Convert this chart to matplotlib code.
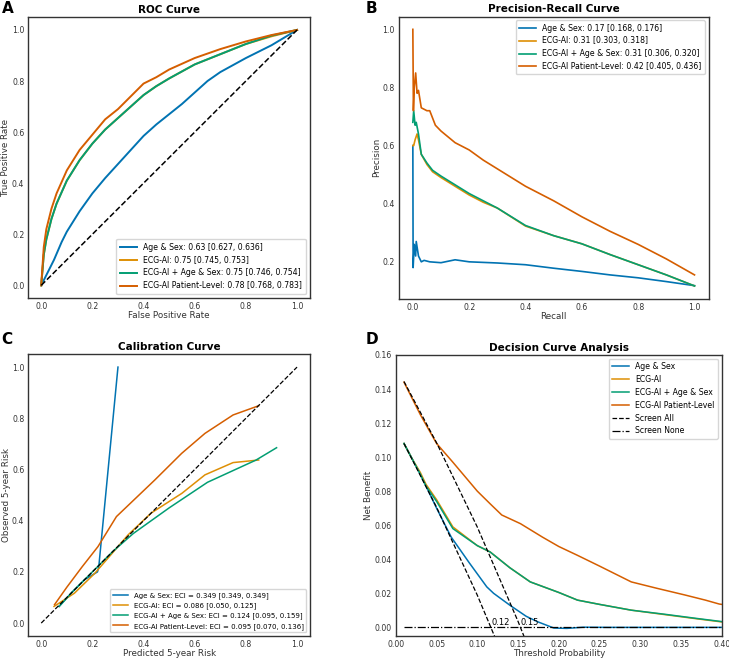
import matplotlib
matplotlib.use("Agg")
import matplotlib.pyplot as plt

# colours (seaborn colorblind)
COLORS = ["#0173B2", "#DE8F05", "#029E73", "#D55E00"]

# ---- ROC data ----
roc_labels = [
    "Age & Sex: 0.63 [0.627, 0.636]",
    "ECG-AI: 0.75 [0.745, 0.753]",
    "ECG-AI + Age & Sex: 0.75 [0.746, 0.754]",
    "ECG-AI Patient-Level: 0.78 [0.768, 0.783]",
]
roc_age_fpr = [0, 0.02, 0.05, 0.08, 0.1, 0.15, 0.2, 0.25, 0.3, 0.35, 0.4, 0.45, 0.5, 0.55, 0.6, 0.65, 0.7, 0.8, 0.9, 0.95, 1.0]
roc_age_tpr = [0, 0.04, 0.1, 0.17, 0.21, 0.29, 0.36, 0.42, 0.475, 0.53, 0.585, 0.63, 0.67, 0.71, 0.755, 0.8, 0.835, 0.89, 0.94, 0.97, 1.0]
roc_ecg_fpr = [0, 0.01, 0.02, 0.04, 0.06, 0.1, 0.15, 0.2, 0.25, 0.3, 0.35, 0.4, 0.45, 0.5, 0.6, 0.7, 0.8, 0.9, 1.0]
roc_ecg_tpr = [0, 0.12, 0.18, 0.26, 0.32, 0.41, 0.49, 0.555, 0.61, 0.655, 0.70, 0.745, 0.78, 0.81, 0.865, 0.905, 0.945, 0.975, 1.0]
roc_comb_tpr = [0, 0.12, 0.18, 0.26, 0.32, 0.41, 0.49, 0.555, 0.61, 0.655, 0.70, 0.745, 0.78, 0.81, 0.865, 0.905, 0.945, 0.978, 1.0]
roc_pat_fpr = [0, 0.01, 0.02, 0.04, 0.06, 0.1, 0.15, 0.2, 0.25, 0.3, 0.35, 0.4, 0.45, 0.5, 0.6, 0.7, 0.8, 0.9, 1.0]
roc_pat_tpr = [0, 0.15, 0.22, 0.3, 0.36, 0.45, 0.53, 0.59, 0.65, 0.69, 0.74, 0.79, 0.815, 0.845, 0.89, 0.925, 0.955, 0.98, 1.0]

# ---- Precision-recall data ----
pr_labels = [
    "Age & Sex: 0.17 [0.168, 0.176]",
    "ECG-AI: 0.31 [0.303, 0.318]",
    "ECG-AI + Age & Sex: 0.31 [0.306, 0.320]",
    "ECG-AI Patient-Level: 0.42 [0.405, 0.436]",
]
pr_age_rec = [0, 0.001, 0.005, 0.01, 0.012, 0.02, 0.03, 0.04, 0.06, 0.1, 0.15, 0.2, 0.3, 0.4, 0.5, 0.6, 0.7, 0.8, 0.9, 1.0]
pr_age_prec = [0.6, 0.18, 0.26, 0.22, 0.27, 0.22, 0.2, 0.205, 0.2, 0.197, 0.207, 0.2, 0.196, 0.19, 0.178, 0.167, 0.155, 0.145, 0.132, 0.118]
pr_ecg_rec = [0, 0.003, 0.008, 0.015, 0.02, 0.03, 0.05, 0.07, 0.1, 0.15, 0.2, 0.25, 0.3, 0.4, 0.5, 0.6, 0.7, 0.8, 0.9, 1.0]
pr_ecg_prec = [0.6, 0.6, 0.62, 0.64, 0.62, 0.57, 0.535, 0.51, 0.49, 0.46, 0.43, 0.405, 0.385, 0.323, 0.29, 0.262, 0.225, 0.19, 0.155, 0.117]
pr_comb_rec = [0, 0.003, 0.008, 0.012, 0.02, 0.03, 0.05, 0.07, 0.1, 0.15, 0.2, 0.25, 0.3, 0.4, 0.5, 0.6, 0.7, 0.8, 0.9, 1.0]
pr_comb_prec = [0.68, 0.72, 0.67, 0.68, 0.64, 0.57, 0.54, 0.515, 0.495, 0.465, 0.435, 0.41, 0.385, 0.325, 0.29, 0.262, 0.225, 0.19, 0.155, 0.117]
pr_pat_rec = [0, 0.002, 0.005, 0.01, 0.015, 0.02, 0.03, 0.05, 0.06, 0.08, 0.1, 0.15, 0.2, 0.25, 0.3, 0.35, 0.4, 0.5, 0.6, 0.7, 0.8, 0.9, 1.0]
pr_pat_prec = [1.0, 0.72, 0.8, 0.85, 0.78, 0.79, 0.73, 0.72, 0.72, 0.67, 0.65, 0.61, 0.585, 0.55, 0.52, 0.49, 0.46, 0.41, 0.355, 0.305, 0.26, 0.21, 0.155]

# ---- Calibration data ----
cal_labels = [
    "Age & Sex: ECI = 0.349 [0.349, 0.349]",
    "ECG-AI: ECI = 0.086 [0.050, 0.125]",
    "ECG-AI + Age & Sex: ECI = 0.124 [0.095, 0.159]",
    "ECG-AI Patient-Level: ECI = 0.095 [0.070, 0.136]",
]
cal_age_pred = [0.07, 0.12, 0.17, 0.22, 0.225, 0.30]
cal_age_obs = [0.065, 0.12, 0.17, 0.2, 0.22, 1.0]
cal_ecg_pred = [0.05, 0.13, 0.21, 0.34, 0.43, 0.55, 0.64, 0.75, 0.85]
cal_ecg_obs = [0.065, 0.117, 0.195, 0.345, 0.43, 0.507, 0.579, 0.627, 0.637]
cal_comb_pred = [0.07, 0.12, 0.2, 0.28, 0.36, 0.5, 0.65, 0.84, 0.92]
cal_comb_obs = [0.065, 0.12, 0.2, 0.28, 0.35, 0.45, 0.55, 0.637, 0.685]
cal_pat_pred = [0.052, 0.1, 0.16, 0.222, 0.294, 0.444, 0.549, 0.64, 0.75, 0.85]
cal_pat_obs = [0.072, 0.14, 0.22, 0.299, 0.416, 0.559, 0.663, 0.741, 0.813, 0.849]

# ---- Decision curve data ----
dca_labels = ["Age & Sex", "ECG-AI", "ECG-AI + Age & Sex", "ECG-AI Patient-Level"]
dca_age_t = [0.01, 0.03, 0.05, 0.068, 0.09, 0.1116, 0.12, 0.14, 0.16, 0.174, 0.194, 0.21, 0.23, 0.26, 0.3, 0.4]
dca_age_nb = [0.108, 0.09, 0.07, 0.053, 0.038, 0.0238, 0.02, 0.013, 0.0065, 0.0033, -0.0004, -0.0006, 0.0001, 0.0, 0.0, 0.0]
dca_t = [0.01, 0.02, 0.03, 0.037, 0.05, 0.07, 0.1, 0.1157, 0.14, 0.165, 0.2, 0.223, 0.25, 0.289, 0.33, 0.37, 0.4]
dca_ecg_nb = [0.108, 0.099, 0.091, 0.084, 0.075, 0.059, 0.048, 0.0443, 0.035, 0.0267, 0.0205, 0.016, 0.0135, 0.0101, 0.0075, 0.005, 0.0032]
dca_comb_nb = [0.108, 0.099, 0.09, 0.083, 0.074, 0.058, 0.048, 0.0443, 0.035, 0.0267, 0.0205, 0.016, 0.0135, 0.0101, 0.0077, 0.0052, 0.0034]
dca_pat_t = [0.01, 0.03, 0.05, 0.07, 0.1, 0.1157, 0.13, 0.153, 0.18, 0.2, 0.223, 0.25, 0.289, 0.32, 0.355, 0.38, 0.397, 0.4]
dca_pat_nb = [0.144, 0.125, 0.108, 0.097, 0.08, 0.0726, 0.066, 0.0609, 0.053, 0.0475, 0.0423, 0.036, 0.0267, 0.023, 0.019, 0.016, 0.0137, 0.0135]
all_lo_t = [0.01, 0.05, 0.1, 0.12, 0.125]
all_lo_nb = [0.108, 0.0705, 0.0189, -0.0039, -0.0095]
all_hi_t = [0.01, 0.05, 0.1, 0.15, 0.16]
all_hi_nb = [0.1444, 0.1084, 0.0589, 0.0035, -0.0085]
none_t = [0.01, 0.4]
none_nb = [0.0, 0.0]
cutoffs = [0.12, 0.15]
cutoff_x = [0.117, 0.153]


def style(ax, title, xlabel, ylabel):
    ax.set_title(title, fontsize=7.5, fontweight="bold", pad=3)
    ax.set_xlabel(xlabel, fontsize=6.3, color="#333333", labelpad=0)
    ax.set_ylabel(ylabel, fontsize=6.3, color="#333333", labelpad=1)
    ax.tick_params(length=0, labelsize=5.6, colors="#333333", pad=3)
    for s in ax.spines.values():
        s.set_color("#333333")
        s.set_linewidth(1.0)


def main():
    fig = plt.figure(figsize=(7.29, 6.61), dpi=100)

    # A: ROC
    ax = fig.add_axes([0.039, 0.549, 0.386, 0.425])
    ax.plot(roc_age_fpr, roc_age_tpr, color=COLORS[0], lw=1.4, label=roc_labels[0])
    ax.plot(roc_ecg_fpr, roc_ecg_tpr, color=COLORS[1], lw=1.4, label=roc_labels[1])
    ax.plot(roc_ecg_fpr, roc_comb_tpr, color=COLORS[2], lw=1.4, label=roc_labels[2])
    ax.plot(roc_pat_fpr, roc_pat_tpr, color=COLORS[3], lw=1.4, label=roc_labels[3])
    ax.plot([0, 1], [0, 1], "k--", lw=1.1)
    ax.legend(loc="lower right", fontsize=5.6, frameon=True, borderpad=0.5, handlelength=2.2)
    style(ax, "ROC Curve", "False Positive Rate", "True Positive Rate")

    # B: precision-recall
    ax = fig.add_axes([0.547, 0.548, 0.425, 0.427])
    ax.plot(pr_age_rec, pr_age_prec, color=COLORS[0], lw=1.2, label=pr_labels[0])
    ax.plot(pr_ecg_rec, pr_ecg_prec, color=COLORS[1], lw=1.2, label=pr_labels[1])
    ax.plot(pr_comb_rec, pr_comb_prec, color=COLORS[2], lw=1.2, label=pr_labels[2])
    ax.plot(pr_pat_rec, pr_pat_prec, color=COLORS[3], lw=1.2, label=pr_labels[3])
    ax.legend(loc="upper right", fontsize=5.6, frameon=True, borderpad=0.4, handlelength=2.2)
    ax.set_yticks([0.2, 0.4, 0.6, 0.8, 1.0])
    style(ax, "Precision-Recall Curve", "Recall", "Precision")

    # C: calibration
    ax = fig.add_axes([0.039, 0.038, 0.386, 0.426])
    ax.plot(cal_age_pred, cal_age_obs, color=COLORS[0], lw=1.1, label=cal_labels[0])
    ax.plot(cal_ecg_pred, cal_ecg_obs, color=COLORS[1], lw=1.1, label=cal_labels[1])
    ax.plot(cal_comb_pred, cal_comb_obs, color=COLORS[2], lw=1.1, label=cal_labels[2])
    ax.plot(cal_pat_pred, cal_pat_obs, color=COLORS[3], lw=1.1, label=cal_labels[3])
    ax.plot([0, 1], [0, 1], "k--", lw=0.9)
    ax.legend(loc="lower right", fontsize=5.0, frameon=True, borderpad=0.4, handlelength=2.2)
    style(ax, "Calibration Curve", "Predicted 5-year Risk", "Observed 5-year Risk")

    # D: decision curve
    ax = fig.add_axes([0.543, 0.038, 0.447, 0.425])
    ax.plot(dca_age_t, dca_age_nb, color=COLORS[0], lw=1.1, label=dca_labels[0])
    ax.plot(dca_t, dca_ecg_nb, color=COLORS[1], lw=1.1, label=dca_labels[1])
    ax.plot(dca_t, dca_comb_nb, color=COLORS[2], lw=1.1, label=dca_labels[2])
    ax.plot(dca_pat_t, dca_pat_nb, color=COLORS[3], lw=1.1, label=dca_labels[3])
    ax.plot(all_lo_t, all_lo_nb, "k--", lw=0.9, label="Screen All")
    ax.plot(all_hi_t, all_hi_nb, "k--", lw=0.9)
    ax.plot(none_t, none_nb, "k-.", lw=0.9, label="Screen None")
    for lab, xc in zip(cutoffs, cutoff_x):
        ax.text(xc, 0.0003, f"{lab:.2f}", fontsize=6, ha="left", va="bottom")
    ax.set_xlim(0, 0.4)
    ax.set_ylim(-0.005, 0.16)
    ax.legend(loc="upper right", fontsize=5.6, frameon=True, borderpad=0.4, handlelength=2.2)
    style(ax, "Decision Curve Analysis", "Threshold Probability", "Net Benefit")

    for lab, x, y in [("A", 0.002, 0.999), ("B", 0.501, 0.999), ("C", 0.002, 0.497), ("D", 0.501, 0.497)]:
        fig.text(x, y, lab, fontsize=11, fontweight="bold", ha="left", va="top")

    fig.savefig("out.png", dpi=100, facecolor="white")


if __name__ == "__main__":
    main()
